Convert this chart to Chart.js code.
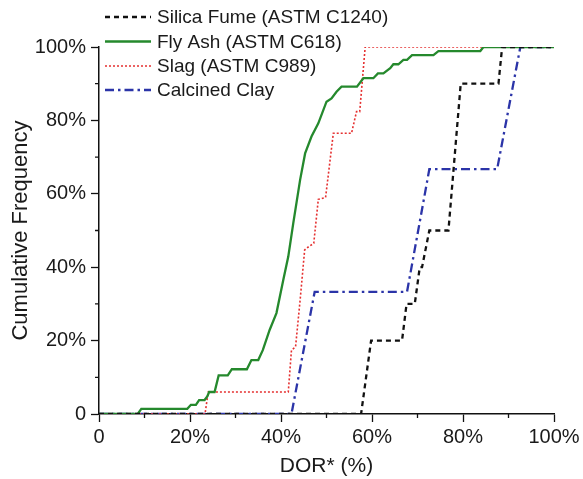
<!DOCTYPE html>
<html>
<head>
<meta charset="utf-8">
<script src="https://cdn.jsdelivr.net/npm/chart.js@4.4.0/dist/chart.umd.min.js"></script>
<style>
html, body { margin: 0; padding: 0; background: #fff; }
#wrap { width: 583px; height: 479px; position: relative; }
</style>
</head>
<body>
<div id="wrap"><canvas id="cdfChart"></canvas></div>
<script>
// series names (legend order)
const seriesNames = ['Silica Fume (ASTM C1240)', 'Fly Ash (ASTM C618)', 'Slag (ASTM C989)', 'Calcined Clay'];

// DOR* (%) vs cumulative frequency (%)
const silicaX = [0, 57.6, 59.8, 66.6, 67.6, 69.4, 70.5, 71.0, 72.6, 76.8, 79.5, 87.8, 88.6, 100];
const silicaY = [0, 0, 20, 20, 30, 30, 40, 40, 50, 50, 90, 90, 100, 100];

const flyAshX = [0, 8.5, 9.3, 19.4, 20.2, 21.3, 22.0, 23.2, 23.8, 24.2, 25.4, 26.3, 28.3, 29.2, 32.5, 33.5, 35.0, 36.0, 37.5, 39.0, 40.5, 41.6, 42.7, 44.2, 45.3, 46.7, 48.2, 50.0, 51.1, 52.2, 53.3, 56.7, 58.1, 60.3, 61.3, 62.5, 64.0, 64.7, 65.8, 66.9, 67.7, 68.8, 73.5, 74.6, 83.8, 84.5, 100];
const flyAshY = [0, 0, 1.4, 1.4, 2.5, 2.5, 3.8, 3.8, 4.8, 6.0, 6.0, 10.5, 10.5, 12.2, 12.2, 14.7, 14.7, 17.4, 22.9, 27.5, 36.5, 42.9, 52.0, 63.8, 71.0, 75.6, 79.2, 85.1, 86.0, 87.8, 89.2, 89.2, 91.5, 91.5, 92.8, 92.8, 94.2, 95.3, 95.3, 96.5, 96.5, 97.8, 97.8, 98.9, 98.9, 100, 100];

const slagX = [0, 23.3, 24.0, 41.6, 42.3, 43.2, 44.2, 45.2, 46.0, 47.2, 48.2, 49.8, 51.5, 55.5, 56.6, 57.3, 58.5, 100];
const slagY = [0, 0, 6.0, 6.0, 17.4, 18.3, 31.0, 44.7, 45.5, 46.5, 58.5, 59.0, 76.5, 76.5, 82.4, 82.4, 100, 100];

const clayX = [0, 42.3, 47.4, 67.7, 72.6, 87.5, 92.6, 100];
const clayY = [0, 0, 33.3, 33.3, 66.7, 66.7, 100, 100];

// labelled (major) ticks and unlabelled minor ticks, same for both axes
const majorTicks = [0, 20, 40, 60, 80, 100];
const minorTicks = [10, 30, 50, 70, 90];

function pts(xs, ys) {
    return xs.map((x, i) => ({ x: x, y: ys[i] }));
}

const FONT = "'Liberation Sans', Arial, sans-serif";

const datasets = [
    {
        label: seriesNames[0],
        data: pts(silicaX, silicaY),
        borderColor: '#111111',
        borderWidth: 2.3,
        borderDash: [5, 4],
    },
    {
        label: seriesNames[1],
        data: pts(flyAshX, flyAshY),
        borderColor: '#25892d',
        borderWidth: 2.3,
        borderDash: [],
    },
    {
        label: seriesNames[2],
        data: pts(slagX, slagY),
        borderColor: '#e53030',
        borderWidth: 1.6,
        borderDash: [2, 2],
    },
    {
        label: seriesNames[3],
        data: pts(clayX, clayY),
        borderColor: '#2b34a8',
        borderWidth: 2.3,
        borderDash: [9, 4, 2.5, 4],
    },
];
datasets.forEach(d => {
    d.pointRadius = 0;
    d.fill = false;
    d.tension = 0;
});

// short minor ticks on the outside of both axes
const minorTickMarks = {
    id: 'minorTickMarks',
    afterDraw(chart) {
        const ctx = chart.ctx;
        const xs = chart.scales.x, ys = chart.scales.y;
        const area = chart.chartArea;
        ctx.save();
        ctx.strokeStyle = '#111';
        ctx.lineWidth = 1.3;
        ctx.beginPath();
        minorTicks.forEach(v => {
            const px = xs.getPixelForValue(v);
            ctx.moveTo(px, area.bottom);
            ctx.lineTo(px, area.bottom + 4);
            const py = ys.getPixelForValue(v);
            ctx.moveTo(area.left, py);
            ctx.lineTo(area.left - 4, py);
        });
        ctx.stroke();
        ctx.restore();
    }
};

// legend drawn in the upper left, partly above the plot
const cornerLegend = {
    id: 'cornerLegend',
    afterDraw(chart) {
        const ctx = chart.ctx;
        const rows = [17, 41.5, 66, 90];
        ctx.save();
        ctx.font = '19px ' + FONT;
        ctx.textBaseline = 'middle';
        ctx.textAlign = 'left';
        chart.data.datasets.forEach((ds, i) => {
            const y = rows[i];
            ctx.beginPath();
            ctx.strokeStyle = ds.borderColor;
            ctx.lineWidth = ds.borderWidth;
            ctx.setLineDash(ds.borderDash);
            ctx.moveTo(105, y);
            ctx.lineTo(151, y);
            ctx.stroke();
            ctx.setLineDash([]);
            ctx.fillStyle = '#1a1a1a';
            ctx.fillText(ds.label, 157, y + 1);
        });
        ctx.restore();
    }
};

function pctLabel(v) {
    return v === 0 ? '0' : v + '%';
}

const config = {
    type: 'line',
    data: { datasets: datasets },
    options: {
        responsive: true,
        maintainAspectRatio: false,
        animation: false,
        layout: { padding: { top: 47, right: 29, bottom: 0, left: 0 } },
        plugins: {
            legend: { display: false },
            tooltip: { enabled: false },
        },
        scales: {
            x: {
                type: 'linear',
                min: 0,
                max: 100,
                afterFit: (s) => { s.height = 65; },
                afterBuildTicks: (s) => { s.ticks = majorTicks.map(v => ({ value: v })); },
                ticks: {
                    autoSkip: false,
                    maxRotation: 0,
                    padding: 3,
                    color: '#1a1a1a',
                    font: { family: FONT, size: 20 },
                    callback: pctLabel,
                },
                grid: {
                    drawOnChartArea: false,
                    tickLength: 8,
                    tickColor: '#111',
                    tickWidth: 1.3,
                },
                border: { color: '#111', width: 1.5 },
                title: {
                    display: true,
                    text: 'DOR* (%)',
                    color: '#1a1a1a',
                    font: { family: FONT, size: 21 },
                    padding: { top: 4, bottom: 0 },
                },
            },
            y: {
                min: 0,
                max: 100,
                afterFit: (s) => { s.width = 99; },
                afterBuildTicks: (s) => { s.ticks = majorTicks.map(v => ({ value: v })); },
                ticks: {
                    autoSkip: false,
                    padding: 5,
                    color: '#1a1a1a',
                    font: { family: FONT, size: 20 },
                    callback: pctLabel,
                },
                grid: {
                    drawOnChartArea: false,
                    tickLength: 8,
                    tickColor: '#111',
                    tickWidth: 1.3,
                },
                border: { color: '#111', width: 1.5 },
                title: {
                    display: true,
                    text: 'Cumulative Frequency',
                    color: '#1a1a1a',
                    font: { family: FONT, size: 22 },
                    padding: { top: 8, bottom: 0 },
                },
            },
        },
    },
    plugins: [minorTickMarks, cornerLegend],
};

var ctx = document.getElementById('cdfChart').getContext('2d');
var cdfChart = new Chart(ctx, config);
</script>
</body>
</html>
